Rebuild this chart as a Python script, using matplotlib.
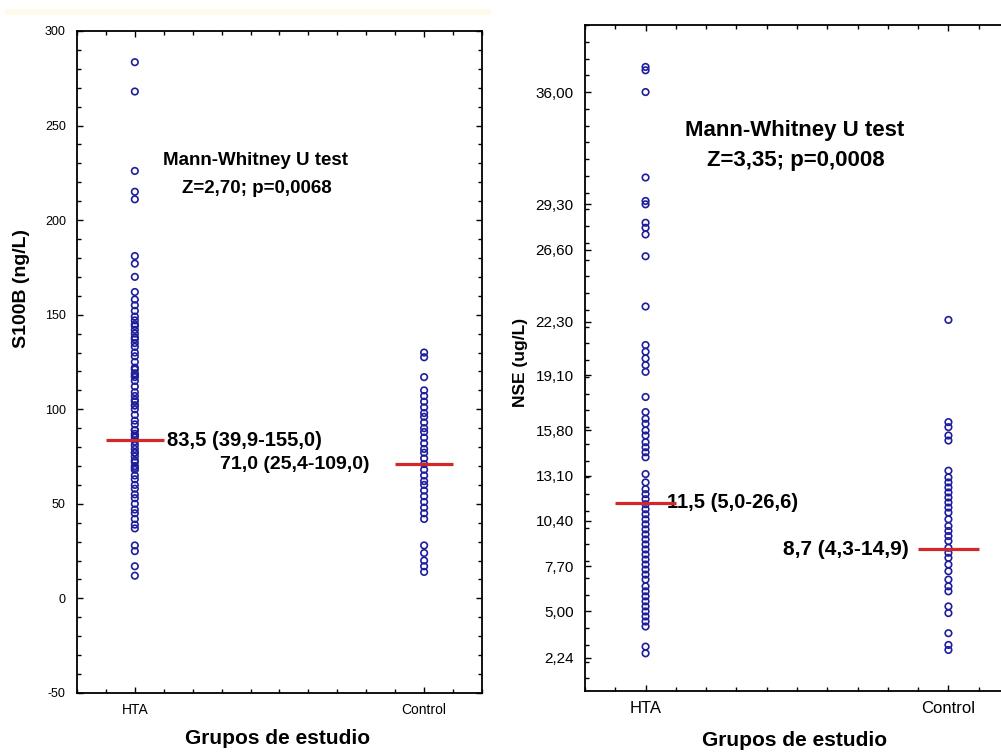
import numpy as np
import matplotlib.pyplot as plt
from matplotlib.ticker import MultipleLocator, FixedLocator
from matplotlib.patches import Rectangle

plt.rcParams['font.family'] = ['Liberation Sans', 'DejaVu Sans']
plt.rcParams['axes.unicode_minus'] = False

groups = ['HTA', 'Control']

# S100B (ng/L) per subject
s100b_hta = [283.5, 268, 226, 215, 211, 181, 177, 170, 162, 158, 155, 152,
             149, 147, 145, 144, 142, 140, 138, 137, 135, 133, 130, 128, 125,
             122, 121, 119, 118, 117, 115, 112, 109, 107, 105, 104, 102, 102,
             100, 97, 94, 92, 89, 89, 87, 86, 85, 83, 81, 79, 77, 77, 75, 73,
             72, 70, 69, 68, 65, 63, 60, 58, 55, 53, 50, 47, 45, 42, 39, 37,
             28, 25, 17, 12]
s100b_control = [130, 127.5, 117, 110, 107, 104, 101, 98, 96, 93, 90, 88,
                 85, 82, 79, 77, 74, 71, 68, 65, 62, 60, 57, 54, 51, 48, 45,
                 42, 28, 24, 20, 17, 14]
s100b_median = [83.5, 71.0]
s100b_text = ['83,5 (39,9-155,0)', '71,0 (25,4-109,0)']
s100b_test = ['Mann-Whitney U test', 'Z=2,70; p=0,0068']

# NSE (ug/L) per subject
nse_hta = [37.5, 37.3, 36.0, 30.9, 29.5, 29.3, 28.2, 27.9, 27.5, 26.2, 23.2,
           20.9, 20.5, 20.1, 19.7, 19.3, 17.8, 16.9, 16.5, 16.2, 15.8, 15.5,
           15.1, 14.8, 14.5, 14.2, 13.2, 12.7, 12.3, 12.0, 11.7, 11.4, 11.1,
           10.8, 10.5, 10.2, 9.9, 9.6, 9.3, 9.0, 8.7, 8.4, 8.1, 7.8, 7.5,
           7.2, 6.9, 6.5, 6.2, 5.9, 5.6, 5.3, 5.0, 4.7, 4.4, 4.1, 2.9, 2.5]
nse_control = [22.4, 16.3, 16.0, 15.5, 15.2, 13.4, 13.0, 12.7, 12.4, 12.1,
               11.8, 11.5, 11.2, 10.9, 10.5, 10.1, 9.8, 9.5, 9.2, 8.8, 8.5,
               8.2, 7.8, 7.4, 6.9, 6.5, 6.2, 5.3, 4.9, 3.7, 3.0, 2.7]
nse_median = [11.5, 8.7]
nse_text = ['11,5 (5,0-26,6)', '8,7 (4,3-14,9)']
nse_test = ['Mann-Whitney U test', 'Z=3,35; p=0,0008']
nse_ticks = [2.24, 5.0, 7.7, 10.4, 13.1, 15.8, 19.1, 22.3, 26.6, 29.3, 36.0]

POINT = '#1e1e9c'
MEDIAN = '#d42828'


def style_axes(ax, xtick_size, ytick_size):
    ax.set_xlim(0.8, 2.2)
    ax.set_xticks([1, 2])
    ax.set_xticklabels(groups)
    ax.xaxis.set_minor_locator(MultipleLocator(0.1))
    for s in ax.spines.values():
        s.set_linewidth(1.3)
    ax.tick_params(which='both', direction='in', top=True, right=True,
                   width=1.0)
    ax.tick_params(which='major', length=4)
    ax.tick_params(which='minor', length=3)
    ax.tick_params(axis='x', labelsize=xtick_size, pad=7)
    ax.tick_params(axis='y', labelsize=ytick_size, pad=8)


def draw_groups(ax, hta, control, medians):
    for x, vals in zip([1, 2], [hta, control]):
        ax.scatter(np.full(len(vals), x), vals, s=22, facecolors='none',
                   edgecolors=POINT, linewidths=1.2, zorder=3)
    for x, m in zip([1, 2], medians):
        ax.hlines(m, x - 0.1, x + 0.1, color=MEDIAN, lw=2.3, zorder=4)


fig = plt.figure(figsize=(10.01, 7.52), dpi=100)
fig.patches.append(Rectangle((0.005, 0.981), 0.485, 0.007,
                             transform=fig.transFigure, color='#fefaee',
                             zorder=0))

# left panel: S100B
ax1 = fig.add_axes([0.0769, 0.0785, 0.4046, 0.8803])
draw_groups(ax1, s100b_hta, s100b_control, s100b_median)
style_axes(ax1, 10, 9)
ax1.set_ylim(-50, 300)
ax1.yaxis.set_major_locator(MultipleLocator(50))
ax1.yaxis.set_minor_locator(MultipleLocator(10))
ax1.text(1.11, s100b_median[0], s100b_text[0], ha='left', va='center',
         fontsize=14.5, fontweight='bold')
ax1.text(1.81, s100b_median[1], s100b_text[1], ha='right', va='center',
         fontsize=14, fontweight='bold')
ax1.text(0.44, 0.805, s100b_test[0], transform=ax1.transAxes, ha='center',
         va='center', fontsize=13.5, fontweight='bold')
ax1.text(0.445, 0.762, s100b_test[1], transform=ax1.transAxes, ha='center',
         va='center', fontsize=13.5, fontweight='bold')
fig.text(22 / 1001, 1 - 289 / 752, 'S100B (ng/L)', rotation=90,
         ha='center', va='center', fontsize=14, fontweight='bold')
fig.text(278 / 1001, 1 - 739 / 752, 'Grupos de estudio', ha='center',
         va='center', fontsize=15, fontweight='bold')

# right panel: NSE (runs past the right edge of the figure)
ax2 = fig.add_axes([0.5844, 0.0811, 0.4236, 0.8856])
draw_groups(ax2, nse_hta, nse_control, nse_median)
style_axes(ax2, 12, 11)
ax2.set_ylim(0.25, 40)
ax2.yaxis.set_major_locator(FixedLocator(nse_ticks))
ax2.set_yticklabels([f'{v:.2f}'.replace('.', ',') for v in nse_ticks])
ax2.yaxis.set_minor_locator(MultipleLocator(1))
ax2.text(1.07, nse_median[0], nse_text[0], ha='left', va='center',
         fontsize=14.5, fontweight='bold')
ax2.text(1.87, nse_median[1], nse_text[1], ha='right', va='center',
         fontsize=15, fontweight='bold')
ax2.text(0.495, 0.841, nse_test[0], transform=ax2.transAxes, ha='center',
         va='center', fontsize=16, fontweight='bold')
ax2.text(0.498, 0.797, nse_test[1], transform=ax2.transAxes, ha='center',
         va='center', fontsize=16, fontweight='bold')
fig.text(521 / 1001, 1 - 362 / 752, 'NSE (ug/L)', rotation=90,
         ha='center', va='center', fontsize=12.5, fontweight='bold')
fig.text(795 / 1001, 1 - 741 / 752, 'Grupos de estudio', ha='center',
         va='center', fontsize=15, fontweight='bold')

fig.savefig('out.png', dpi=100)
